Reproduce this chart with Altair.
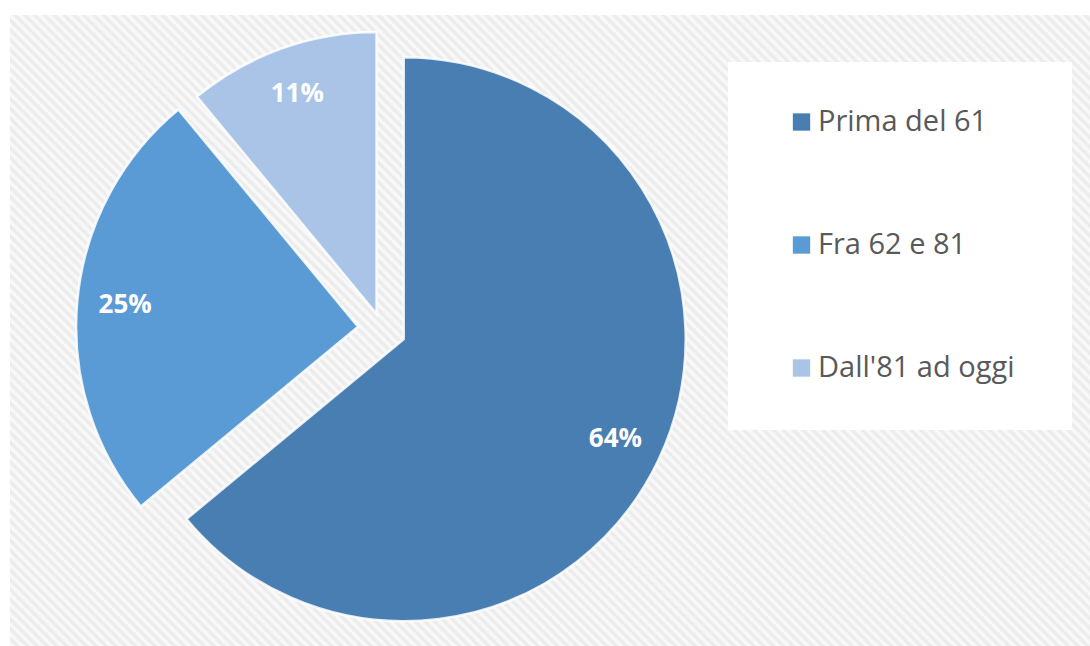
import altair as alt
import pandas as pd

# ---- data ----
categories = ["Prima del 61", "Fra 62 e 81", "Dall'81 ad oggi"]
shares = [64, 25, 11]
labels = ["64%", "25%", "11%"]

# ---- styles ----
colors = ["#487eb1", "#5a9bd5", "#a9c4e6"]
explode = [24, 24, 16]          # per-slice explosion (px), as in the Excel chart
CX, CY = 382, 329               # pie centre before explosion (px)
R = 282                         # pie radius (px)
LABEL_R = 234                   # distance of the % labels from each slice apex

W, H = 1090, 646

df = pd.DataFrame({
    "cat": categories,
    "share": shares,
    "label": labels,
    "idx": list(range(len(categories))),
    "explode": explode,
})

base = alt.Chart(df).transform_window(
    cum="sum(share)", sort=[alt.SortField("idx")], frame=[None, 0]
).transform_joinaggregate(
    total="sum(share)"
).transform_calculate(
    a0="2*PI*(datum.cum - datum.share)/datum.total",
    a1="2*PI*datum.cum/datum.total",
).transform_calculate(
    mid="(datum.a0 + datum.a1)/2",
).transform_calculate(
    px=f"{CX} + datum.explode*sin(datum.mid)",
    py=f"{CY} - datum.explode*cos(datum.mid)",
).transform_calculate(
    lx=f"datum.px + {LABEL_R}*sin(datum.mid)",
    ly=f"datum.py - {LABEL_R}*cos(datum.mid)",
    ly_leg="122 + datum.idx*123",
)

color = alt.Color("cat:N", scale=alt.Scale(domain=categories, range=colors), legend=None)

# hatched background (soft diagonal stripes via a many-stop linear gradient)
N = 220
stops = []
for k in range(N):
    stops.append({"offset": k / N, "color": "#fbfbfb"})
    stops.append({"offset": (k + 0.5) / N, "color": "#e9e9e9"})
stops.append({"offset": 1, "color": "#fbfbfb"})
gradient = {"gradient": "linear", "x1": 0, "y1": 1, "x2": 1, "y2": 0, "stops": stops}

bg = alt.Chart(alt.Data(values=[{"a": 1}])).mark_rect(fill=gradient).encode(
    x=alt.value(10), x2=alt.value(10 + 1080), y=alt.value(15), y2=alt.value(15 + 1080)
)

slices = base.mark_arc(radius=R, stroke="#ffffff", strokeWidth=2.5, strokeOpacity=0.85).encode(
    theta=alt.Theta("a0:Q", scale=None, stack=None),
    theta2="a1:Q",
    x=alt.X("px:Q", scale=None, axis=None),
    y=alt.Y("py:Q", scale=None, axis=None),
    color=color,
)

pct = base.mark_text(font="Open Sans", fontWeight="bold", fontSize=26, color="white",
                     align="center", baseline="middle").encode(
    x=alt.X("lx:Q", scale=None, axis=None),
    y=alt.Y("ly:Q", scale=None, axis=None),
    text="label:N",
)

legend_box = alt.Chart(alt.Data(values=[{"a": 1}])).mark_rect(fill="white").encode(
    x=alt.value(728), x2=alt.value(1072), y=alt.value(62), y2=alt.value(430)
)

leg_sym = base.mark_square(size=300, opacity=1).encode(
    x=alt.value(801.5),
    y=alt.Y("ly_leg:Q", scale=None, axis=None),
    color=color,
)

leg_txt = base.mark_text(font="Open Sans", fontSize=29, color="#595959",
                         align="left", baseline="middle").encode(
    x=alt.value(818),
    y=alt.Y("ly_leg:Q", scale=None, axis=None),
    text="cat:N",
)

chart = alt.layer(bg, slices, pct, legend_box, leg_sym, leg_txt).properties(
    width=W, height=H, padding=0, autosize=alt.AutoSizeParams(type="none"),
    background="white",
).configure_view(stroke=None, strokeWidth=0)

chart.save("out.html", embed_options={"renderer": "svg", "actions": False})
